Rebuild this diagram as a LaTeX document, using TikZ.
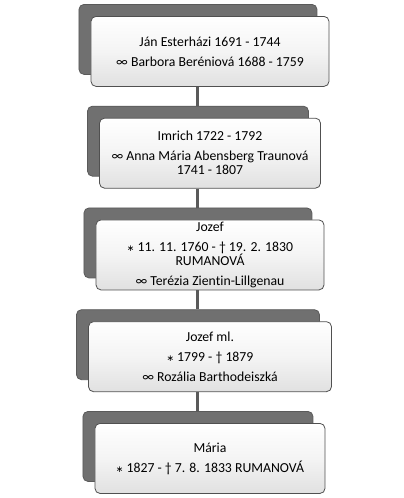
\documentclass[tikz,border=0pt]{standalone}
\usepackage{fontspec}
\setmainfont{Carlito}[Ligatures={NoCommon}]
\newfontfamily\symfont{DejaVu Sans}
\usepackage{tikz-qtree}
\usetikzlibrary{shadows}
\definecolor{boxfill}{HTML}{F4F4F4}
\definecolor{boxline}{HTML}{505050}
\definecolor{backgray}{HTML}{707070}
\definecolor{linegray}{HTML}{5A5A5A}
\newcommand{\lgap}{\\[6bp]}
\newcommand{\born}{{\symfont\fontsize{9bp}{9bp}\selectfont ∗}}
\newcommand{\died}{†}
\newcommand{\married}{∞}

\begin{document}
\begin{tikzpicture}[
	level distance=101.75bp,
	every tree node/.style={anchor=north},
	person/.style={draw=boxline,line width=0.8bp,rounded corners=5bp,
		top color=white,bottom color=boxfill!92!black,middle color=boxfill,
		minimum height=70bp,align=center,inner sep=0pt,
		font=\fontsize{13.75bp}{14bp}\selectfont,
		copy shadow={shadow xshift=-12bp,shadow yshift=12bp,fill=backgray,draw=backgray!80!black}},
	edge from parent/.append style={draw=linegray,line width=3bp},
	edge from parent path={([xshift=-12bp]\tikzparentnode.south) -- ([xshift=-12bp,yshift=12bp]\tikzchildnode.north)}]
\Tree
[.\node[person,minimum width=238bp](jan){Ján Esterházi 1691 - 1744\lgap \married{} Barbora Beréniová 1688 - 1759};
	[.\node[person,minimum width=221bp](imrich){Imrich 1722 - 1792\lgap \married{} Anna Mária Abensberg Traunová\\1741 - 1807};
		[.\node[person,minimum width=228bp](jozef){Jozef\lgap \born{} 11. 11. 1760 - \died{} 19. 2. 1830\\RUMANOVÁ\lgap \married{} Terézia Zientin-Lillgenau};
			[.\node[person,minimum width=243bp](jozefml){Jozef ml.\lgap \born{} 1799 - \died{} 1879\lgap \married{} Rozália Barthodeiszká};
				\node[person,minimum width=230bp](maria){Mária\lgap \born{} 1827 - \died{} 7. 8. 1833 RUMANOVÁ};
			]
		]
	]
]
% frame of the whole page
\pgfresetboundingbox
\path[use as bounding box] ([shift={(-210bp,16bp)}]jan.north) rectangle ++(404bp,-498bp);
\end{tikzpicture}
\end{document}
